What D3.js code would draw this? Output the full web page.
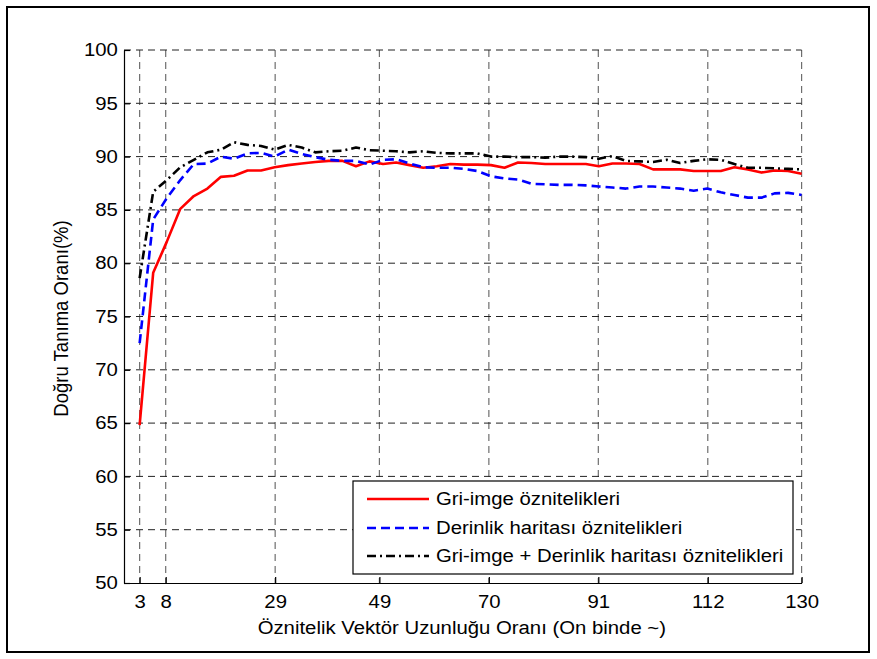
<!DOCTYPE html>
<html>
<head>
<meta charset="utf-8">
<script src="https://cdn.jsdelivr.net/npm/d3@7"></script>
<style>
  html, body { margin: 0; padding: 0; background: #fff; }
  svg { display: block; }
  text { font-family: "Liberation Sans", Arial, Helvetica, sans-serif; fill: #000; }
</style>
</head>
<body>
<svg id="chart" width="877" height="659"></svg>
<script>
// Feature-vector length ratio (per ten thousand) at each measurement
const featureRatio = [
  3.0, 5.6, 8.2, 10.8, 13.4, 16.0, 18.6, 21.1, 23.7, 26.3,
  28.9, 31.5, 34.1, 36.7, 39.3, 41.9, 44.5, 47.1, 49.7, 52.2,
  54.8, 57.4, 60.0, 62.6, 65.2, 67.8, 70.4, 73.0, 75.6, 78.2,
  80.8, 83.4, 86.0, 88.6, 91.1, 93.7, 96.3, 98.9, 101.5, 104.1,
  106.7, 109.3, 111.9, 114.5, 117.1, 119.7, 122.3, 124.8, 127.4, 130.0
];

// Recognition rate (%) for grey-image features
const griImge = [
  64.8, 79.1, 82.0, 85.1, 86.3, 87.0, 88.1, 88.2, 88.7, 88.7,
  89.0, 89.2, 89.35, 89.5, 89.6, 89.6, 89.1, 89.55, 89.3, 89.45,
  89.2, 88.95, 89.1, 89.3, 89.25, 89.25, 89.2, 88.95, 89.45, 89.4,
  89.3, 89.3, 89.3, 89.3, 89.1, 89.35, 89.35, 89.3, 88.8, 88.8,
  88.8, 88.65, 88.65, 88.65, 89.0, 88.8, 88.5, 88.7, 88.65, 88.4
];

// Recognition rate (%) for depth-map features
const derinlik = [
  72.5, 84.1, 86.1, 87.8, 89.3, 89.35, 90.0, 89.8, 90.3, 90.35,
  90.0, 90.65, 90.25, 89.95, 89.7, 89.6, 89.6, 89.25, 89.7, 89.75,
  89.35, 89.0, 88.95, 88.95, 88.85, 88.65, 88.15, 87.95, 87.85, 87.45,
  87.4, 87.35, 87.35, 87.3, 87.2, 87.1, 87.0, 87.2, 87.2, 87.1,
  87.0, 86.8, 87.0, 86.65, 86.4, 86.15, 86.15, 86.55, 86.6, 86.4
];

// Recognition rate (%) for combined grey-image + depth-map features
const birlesik = [
  78.6, 86.7, 87.8, 89.0, 89.7, 90.4, 90.65, 91.35, 91.1, 91.0,
  90.65, 91.1, 90.85, 90.4, 90.5, 90.55, 90.85, 90.6, 90.55, 90.5,
  90.4, 90.5, 90.35, 90.3, 90.3, 90.3, 90.0, 90.0, 89.95, 89.95,
  89.9, 90.0, 90.0, 89.95, 89.8, 90.05, 89.6, 89.55, 89.5, 89.7,
  89.4, 89.6, 89.75, 89.7, 89.3, 88.95, 88.95, 88.9, 88.85, 88.8
];

const xTicks = [3, 8, 29, 49, 70, 91, 112, 130];
const yTicks = [50, 55, 60, 65, 70, 75, 80, 85, 90, 95, 100];

const seriesNames = [
  "Gri-imge öznitelikleri",
  "Derinlik haritası öznitelikleri",
  "Gri-imge + Derinlik haritası öznitelikleri"
];

const xLabel = "Öznitelik Vektör Uzunluğu Oranı (On binde ~)";
const yLabel = "Doğru Tanıma Oranı(%)";

// glyphs are drawn slightly wide
const widen = 1.13;
const fontSize = "18px";

const svg = d3.select("#chart");

// outer frame
svg.append("rect")
  .attr("x", 7).attr("y", 7)
  .attr("width", 862).attr("height", 645)
  .attr("fill", "none").attr("stroke", "#000").attr("stroke-width", 2);

const plot = { left: 124, right: 801.6, top: 50, bottom: 583 };

const x = d3.scaleLinear().domain([0, 130]).range([plot.left, plot.right]);
const y = d3.scaleLinear().domain([50, 100]).range([plot.bottom, plot.top]);

// grid
const grid = svg.append("g");
grid.selectAll("line.vg").data(xTicks).join("line")
  .attr("class", "vg")
  .attr("x1", d => x(d)).attr("x2", d => x(d))
  .attr("y1", plot.top).attr("y2", plot.bottom)
  .attr("stroke", "#6e6e6e").attr("stroke-width", 1.2)
  .attr("stroke-dasharray", "7,5");
grid.selectAll("line.hg").data(yTicks.filter(d => d > 50)).join("line")
  .attr("class", "hg")
  .attr("x1", plot.left).attr("x2", plot.right)
  .attr("y1", d => y(d)).attr("y2", d => y(d))
  .attr("stroke", "#222").attr("stroke-width", 1)
  .attr("stroke-dasharray", "7,5");

// axes (ticks point inward)
const xAxis = svg.append("g")
  .attr("transform", `translate(0,${plot.bottom})`)
  .call(d3.axisBottom(x).tickValues(xTicks).tickSizeInner(-6).tickSizeOuter(0).tickPadding(12));
const yAxis = svg.append("g")
  .attr("transform", `translate(${plot.left},0)`)
  .call(d3.axisLeft(y).tickValues(yTicks).tickSizeInner(-6).tickSizeOuter(0).tickPadding(5.5));

[xAxis, yAxis].forEach(g => {
  g.select(".domain").attr("stroke", "#000").attr("stroke-width", 1.2);
  g.selectAll(".tick line").attr("stroke", "#000").attr("stroke-width", 1.2);
  g.selectAll(".tick text")
    .style("font-family", "'Liberation Sans', Arial, sans-serif")
    .style("font-size", fontSize).attr("fill", "#000")
    .attr("transform", `scale(${widen},1)`);
});

// axis titles
svg.append("text")
  .attr("transform", `translate(${x(65) - 1},634) scale(${widen},1)`)
  .attr("text-anchor", "middle")
  .style("font-size", fontSize)
  .text(xLabel);
svg.append("text")
  .attr("transform", `translate(68,${(plot.top + plot.bottom) / 2 + 2}) rotate(-90) scale(1.03,${widen})`)
  .attr("text-anchor", "middle")
  .style("font-size", fontSize)
  .text(yLabel);

// series lines
const styles = [
  { color: "#ff0000", dash: null },
  { color: "#0000ff", dash: "9,5" },
  { color: "#000000", dash: "9,4,2,4" }
];
const seriesData = [griImge, derinlik, birlesik];

const line = d3.line()
  .x((d, i) => x(featureRatio[i]))
  .y(d => y(d));

const lines = svg.append("g");
seriesData.forEach((vals, s) => {
  lines.append("path")
    .datum(vals)
    .attr("d", line)
    .attr("fill", "none")
    .attr("stroke", styles[s].color)
    .attr("stroke-width", 2.6)
    .attr("stroke-linejoin", "round")
    .attr("stroke-dasharray", styles[s].dash);
});

// legend
const legend = svg.append("g");
legend.append("rect")
  .attr("x", 353).attr("y", 481)
  .attr("width", 440).attr("height", 93)
  .attr("fill", "#fff").attr("stroke", "#000").attr("stroke-width", 1.2);

const legendRows = [499, 528, 556];
seriesNames.forEach((name, s) => {
  legend.append("line")
    .attr("x1", 367).attr("x2", 429)
    .attr("y1", legendRows[s]).attr("y2", legendRows[s])
    .attr("stroke", styles[s].color)
    .attr("stroke-width", 2.6)
    .attr("stroke-dasharray", styles[s].dash);
  legend.append("text")
    .attr("transform", `translate(436,${legendRows[s]}) scale(${widen},1)`)
    .attr("dy", "0.35em")
    .style("font-size", fontSize)
    .text(name);
});
</script>
</body>
</html>
